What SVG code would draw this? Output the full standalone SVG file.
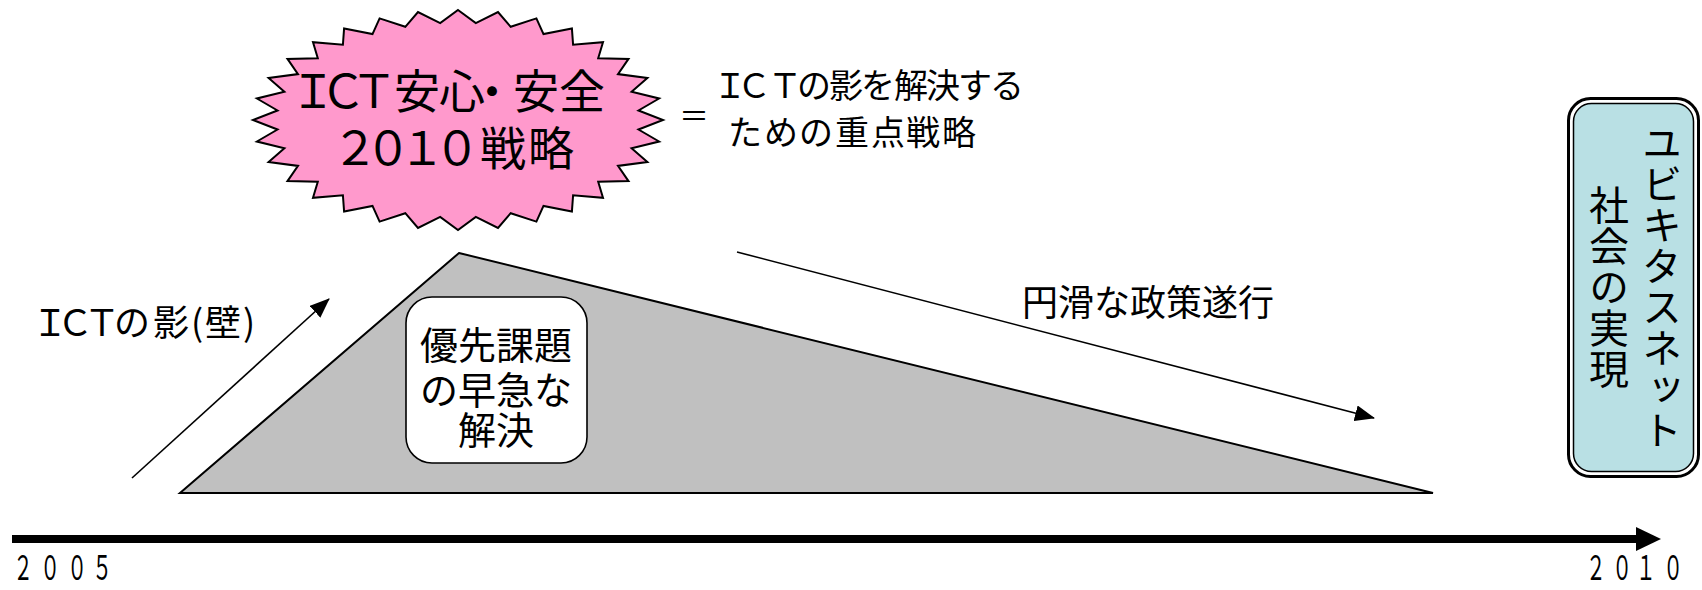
<svg xmlns="http://www.w3.org/2000/svg" width="1702" height="590" viewBox="0 0 1702 590">
<style>
text{font-family:"Noto Sans CJK JP","Noto Sans",sans-serif;fill:#000}
.s46{font-size:46px}
.s38{font-size:38px}
.s36{font-size:36px}
.s34{font-size:34px}
.mid{text-anchor:middle}
.thin{stroke:#000;stroke-width:1.6;fill:none}
.vt{writing-mode:vertical-rl;text-anchor:middle;font-size:40px;letter-spacing:1px}
.year{font-size:34px;text-anchor:middle}
</style>
<defs>
<marker id="ah" markerUnits="userSpaceOnUse" markerWidth="20" markerHeight="16" refX="19" refY="8" orient="auto">
<path d="M0,0 L20,8 L0,16 z" fill="#000"/>
</marker>
</defs>
<rect width="1702" height="590" fill="#fff"/>

<g id="strategy-star">
<polygon fill="#ff99cc" stroke="#000" stroke-width="2" stroke-linejoin="miter" points="458,10 475.8,23.1 498,12.1 510.7,26.8 536.4,18.4 543.5,34.1 571.9,28.5 573.1,44.7 603,42.2 598.2,58.2 628.5,58.9 618,74.1 647.4,77.9 631.6,91.7 659.1,98.5 638.5,110.5 663,120 638.5,129.5 659.1,141.5 631.6,148.3 647.4,162.1 618,165.9 628.5,181.1 598.2,181.8 603,197.8 573.1,195.3 571.9,211.5 543.5,205.9 536.4,221.6 510.7,213.2 498,227.9 475.8,216.9 458,230 440.2,216.9 418,227.9 405.3,213.2 379.6,221.6 372.5,205.9 344.1,211.5 342.9,195.3 313,197.8 317.8,181.8 287.5,181.1 298,165.9 268.6,162.1 284.4,148.3 256.9,141.5 277.5,129.5 253,120 277.5,110.5 256.9,98.5 284.4,91.7 268.6,77.9 298,74.1 287.5,58.9 317.8,58.2 313,42.2 342.9,44.7 344.1,28.5 372.5,34.1 379.6,18.4 405.3,26.8 418,12.1 440.2,23.1"/>
<text class="s46 mid"><tspan x="313 343 374 417 462 492 536 582" y="108">ＩＣＴ安心・安全</tspan><tspan x="355 388 422 457 503 551" y="165">２０１０戦略</tspan></text>
</g>

<g id="definition">
<text class="mid" style="font-size:30px" x="694" y="127">＝</text>
<text class="s34 mid"><tspan x="730 754 785 814 846 878 911 943 975 1007" y="98">ＩＣＴの影を解決する</tspan><tspan x="745 781 816 852 888 923 959" y="145">ための重点戦略</tspan></text>
</g>

<g id="shadow-label">
<text class="s36 mid" x="50 75 102 132 171 197 223 249" y="336">ＩＣＴの影(壁)</text>
</g>

<g id="triangle">
<polygon points="459,253 1433,493 180,493" fill="#c0c0c0" stroke="#000" stroke-width="2" stroke-linejoin="miter"/>
</g>

<g id="priority-box">
<rect x="406" y="297" width="181" height="166" rx="26" ry="26" fill="#fff" stroke="#000" stroke-width="1.6"/>
<text class="s38 mid"><tspan x="496" y="359">優先課題</tspan><tspan x="496" y="404">の早急な</tspan><tspan x="496" y="444">解決</tspan></text>
</g>

<g id="policy-label">
<text class="s36" x="1022" y="316">円滑な政策遂行</text>
</g>

<g id="goal-box">
<rect x="1568.5" y="98.5" width="130" height="378" rx="22" ry="22" fill="#fff" stroke="#000" stroke-width="3"/>
<rect x="1573.5" y="103.5" width="120" height="368" rx="18" ry="18" fill="#b9e0e4" stroke="#000" stroke-width="1.5"/>
<text class="vt" x="1662" y="287">ユビキタスネット</text>
<text class="vt" x="1609" y="287">社会の実現</text>
</g>

<g id="year-labels">
<text class="year" transform="scale(0.58,1)" x="39.7 86.2 132.8 175.9" y="580">２００５</text>
<text class="year" transform="scale(0.58,1)" x="2751.7 2796.6 2837.9 2884.5" y="580">２０１０</text>
</g>

<g id="connectors">
<line class="thin" x1="132" y1="478" x2="329" y2="299" marker-end="url(#ah)"/>
<line class="thin" x1="737" y1="252" x2="1374" y2="418" marker-end="url(#ah)"/>
<line x1="12" y1="539" x2="1640" y2="539" stroke="#000" stroke-width="8"/>
<polygon points="1636,527 1661,539 1636,551" fill="#000"/>
</g>
</svg>
